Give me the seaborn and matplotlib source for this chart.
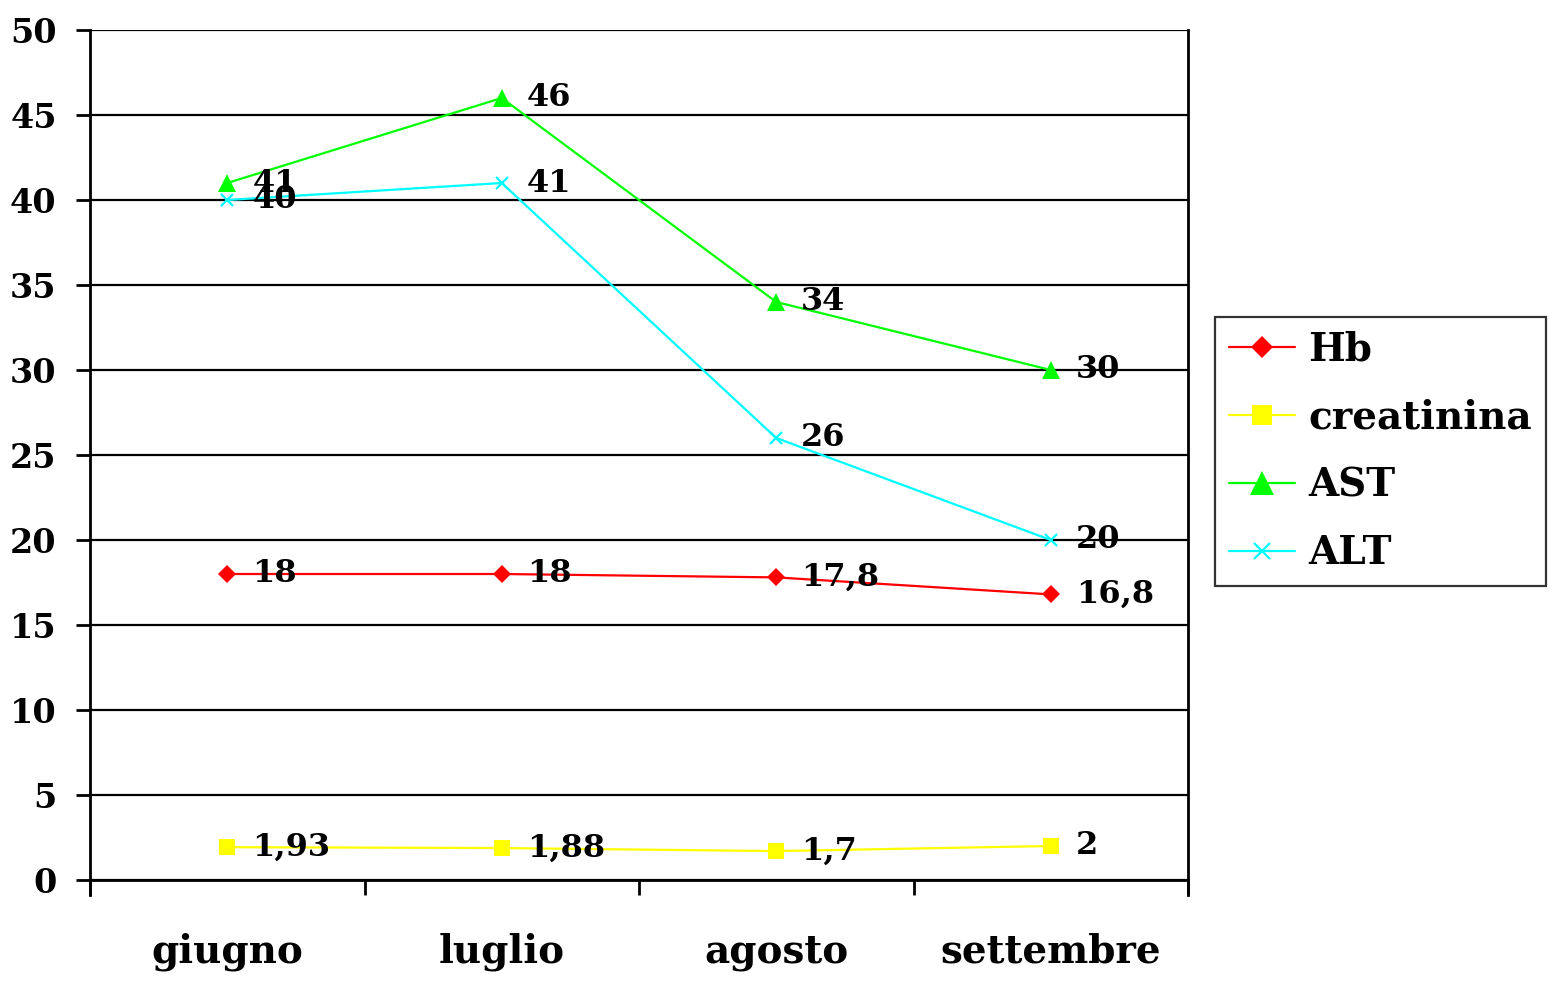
import pandas as pd
import matplotlib
matplotlib.use("Agg")
import matplotlib.pyplot as plt
import seaborn as sns

# === data ===
months = ['giugno', 'luglio', 'agosto', 'settembre']
hb = [18, 18, 17.8, 16.8]
creatinina = [1.93, 1.88, 1.7, 2]
ast = [41, 46, 34, 30]
alt = [40, 41, 26, 20]

series_names = ['Hb', 'creatinina', 'AST', 'ALT']
series_vals = [hb, creatinina, ast, alt]
colors = {'Hb': '#FF0000', 'creatinina': '#FFFF00', 'AST': '#00FF00', 'ALT': '#00FFFF'}
markers = {'Hb': 'D', 'creatinina': 's', 'AST': '^', 'ALT': 'x'}
msizes = {'Hb': 9, 'creatinina': 11, 'AST': 13, 'ALT': 9}

# long-form table for seaborn
rows = []
for name, vals in zip(series_names, series_vals):
    for m, v in zip(months, vals):
        rows.append({'mese': m, 'valore': v, 'serie': name})
df = pd.DataFrame(rows)

sns.set_style('white')
plt.rcParams['font.family'] = ['DejaVu Serif']
plt.rcParams['font.weight'] = 'bold'
plt.rcParams['text.color'] = 'black'
plt.rcParams['xtick.color'] = 'black'
plt.rcParams['ytick.color'] = 'black'

fig = plt.figure(figsize=(15.5, 9.81), dpi=100)
ax = fig.add_axes([90 / 1550, 1 - 880 / 981, 1098 / 1550, 850 / 981])

# positions 0..3 for the months
xpos = {m: i for i, m in enumerate(months)}
df['x'] = df['mese'].map(xpos)

for name in series_names:
    sub = df[df['serie'] == name]
    sns.lineplot(data=sub, x='x', y='valore', ax=ax, color=colors[name],
                 marker=markers[name], markersize=msizes[name],
                 markeredgecolor=colors[name], markeredgewidth=1.6 if name == 'ALT' else 0,
                 linewidth=1.6, label=name, sort=False)

# value labels next to each point
for name, vals in zip(series_names, series_vals):
    for i, v in enumerate(vals):
        txt = ('%g' % v).replace('.', ',')
        ax.annotate(txt, (i, v), xytext=(18, 0), textcoords='offset points',
                    ha='left', va='center', fontsize=23, fontweight='bold', color='black')

ax.set_xlim(-0.5, 3.5)
ax.set_ylim(0, 50)
ax.set_yticks(range(0, 51, 5))
ax.set_xticks([-0.5, 0.5, 1.5, 2.5, 3.5])
ax.set_xticklabels([])
ax.set_xticks(range(4), minor=True)
ax.set_xticklabels(months, minor=True, fontsize=28, fontweight='bold')
ax.tick_params(axis='x', which='minor', bottom=True, length=0, pad=38)
ax.tick_params(axis='x', which='major', bottom=True, length=11, width=2,
               color='black', direction='out')
ax.tick_params(axis='y', left=True, length=10, width=2, color='black', direction='out',
               labelsize=24, pad=14)
for lab in ax.get_yticklabels():
    lab.set_fontweight('bold')

ax.grid(axis='y', color='black', linewidth=1.6)
ax.set_axisbelow(True)
ax.set_xlabel('')
ax.set_ylabel('')
for side in ['left', 'right', 'bottom']:
    ax.spines[side].set_color('black')
    ax.spines[side].set_linewidth(2)
ax.spines['top'].set_visible(False)
# left and right spines go a bit below the x axis like the ticks
ax.spines['left'].set_bounds(-0.9, 50)
ax.spines['right'].set_bounds(-0.9, 50)

handles, labels = ax.get_legend_handles_labels()
leg = ax.legend(handles, labels, loc='upper left',
                bbox_to_anchor=(1215 / 1550, 1 - 317 / 981), bbox_transform=fig.transFigure,
                borderaxespad=0, frameon=True, fancybox=False, edgecolor='black',
                prop={'weight': 'bold', 'size': 28, 'family': 'DejaVu Serif'},
                handlelength=1.7, labelspacing=0.77, borderpad=0.35, handletextpad=0.35,
                markerscale=1.3)
leg.get_frame().set_linewidth(1.6)

fig.savefig('out.png', dpi=100, facecolor='white')
